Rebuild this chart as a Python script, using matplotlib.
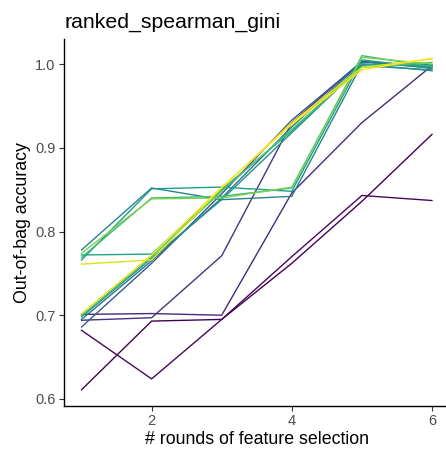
import matplotlib
matplotlib.use("Agg")
import matplotlib.pyplot as plt
import numpy as np

plt.rcParams['font.family'] = ['Liberation Sans', 'DejaVu Sans']

rounds = [1, 2, 3, 4, 5, 6]

# Out-of-bag accuracy per run (one list per line), colour position on viridis scale
run_A = [0.611, 0.693, 0.695, 0.762, 0.836, 0.916]
run_B = [0.682, 0.624, 0.695, 0.770, 0.843, 0.837]
run_C = [0.701, 0.702, 0.700, 0.846, 0.930, 0.998]
run_D = [0.694, 0.697, 0.771, 0.930, 1.003, 0.997]
run_E = [0.686, 0.762, 0.845, 0.933, 1.003, 0.995]
run_F = [0.695, 0.765, 0.840, 0.925, 1.002, 0.999]
run_G = [0.778, 0.852, 0.838, 0.842, 1.000, 0.992]
run_H = [0.698, 0.768, 0.838, 0.918, 0.998, 0.993]
run_I = [0.766, 0.851, 0.853, 0.848, 1.005, 0.995]
run_J = [0.772, 0.773, 0.850, 0.920, 1.000, 0.998]
run_K = [0.769, 0.840, 0.842, 0.852, 1.010, 0.997]
run_L = [0.700, 0.770, 0.848, 0.922, 0.996, 1.002]
run_M = [0.774, 0.839, 0.840, 0.853, 1.008, 1.000]
run_N = [0.761, 0.766, 0.852, 0.930, 0.996, 1.006]
run_O = [0.702, 0.772, 0.853, 0.928, 0.993, 1.007]

runs = [run_A, run_B, run_C, run_D, run_E, run_F, run_G, run_H,
        run_I, run_J, run_K, run_L, run_M, run_N, run_O]
color_pos = [0.0, 0.02, 0.12, 0.15, 0.28, 0.38, 0.45, 0.5,
             0.55, 0.58, 0.68, 0.72, 0.8, 0.95, 1.0]

W, H = 446, 455
fig = plt.figure(figsize=(W / 100, H / 100), dpi=100)
left, right, top, bottom = 64, 449.5, 39, 406
ax = fig.add_axes([left / W, (H - bottom) / H, (right - left) / W, (bottom - top) / H])

cmap = plt.get_cmap('viridis')
for vals, c in zip(runs, color_pos):
    ax.plot(rounds, vals, color=cmap(c), lw=1.0, solid_joinstyle='miter')

ax.set_xlim(0.75, 6.25)
ax.set_ylim(0.5916, 1.0299)
ax.set_xticks([2, 4, 6])
ax.set_yticks([0.6, 0.7, 0.8, 0.9, 1.0])
ax.set_yticklabels(['0.6', '0.7', '0.8', '0.9', '1.0'])

for s in ['top', 'right']:
    ax.spines[s].set_visible(False)
for s in ['left', 'bottom']:
    ax.spines[s].set_linewidth(1.0)
    ax.spines[s].set_color('black')

ax.tick_params(axis='both', length=3.5, width=0.8, color='#333333',
               labelcolor='#4d4d4d', labelsize=10.5, pad=2.5)

ax.set_xlabel('# rounds of feature selection', fontsize=12.8, color='black', labelpad=2)
ax.set_ylabel('Out-of-bag accuracy', fontsize=12.8, color='black', labelpad=3)
ax.set_title('ranked_spearman_gini', loc='left', fontsize=15.3, color='black', pad=8)

fig.savefig('out.png', dpi=100)
